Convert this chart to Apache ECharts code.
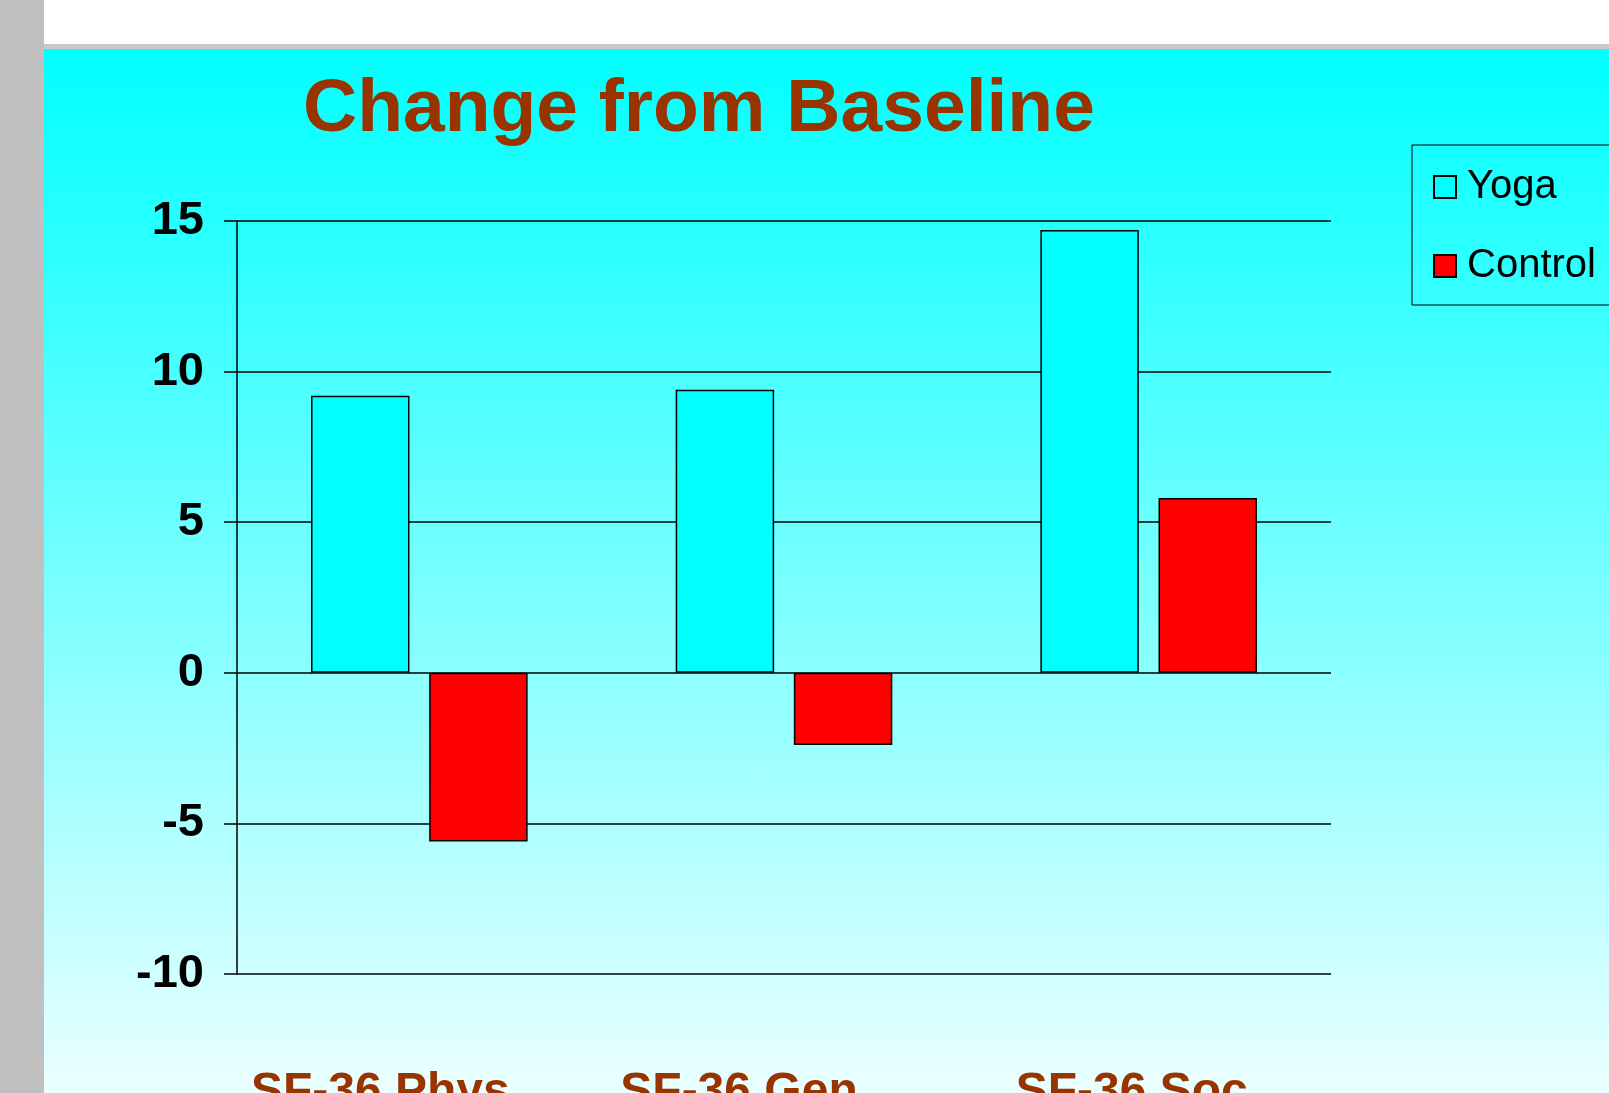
<!DOCTYPE html>
<html>
<head>
<meta charset="utf-8">
<script src="https://cdn.jsdelivr.net/npm/echarts@6/dist/echarts.min.js"></script>
<style>
    html, body { margin: 0; padding: 0; width: 1609px; height: 1093px; overflow: hidden; background: #ffffff; }
    #strip { position: absolute; left: 0; top: 0; width: 44px; height: 1093px; background: #c0c0c0; }
    #rule { position: absolute; left: 44px; top: 44px; width: 1565px; height: 5px; background: #c8c8c8; }
    #slide { position: absolute; left: 44px; top: 49px; width: 1565px; height: 1044px;
             background: linear-gradient(to bottom, #00ffff 0%, #ebffff 100%); }
    #main { position: absolute; left: 0; top: 0; width: 1609px; height: 1093px; }
</style>
</head>
<body>
<div id="strip"></div>
<div id="rule"></div>
<div id="slide"></div>
<div id="main"></div>
<script>
// 分类
const categories = ['SF-36 Phys', 'SF-36 Gen', 'SF-36 Soc']
// Yoga 组
const yoga = [9.2, 9.4, 14.7]
// Control 组
const control = [-5.6, -2.4, 5.8]
// y 轴刻度
const yMin = -10
const yMax = 15
const yStep = 5

const font = 'Liberation Sans, Arial, sans-serif'
const brown = '#993300'

// labels sit a bit left of the category centres in the original
const labelRich = {
    l0: { fontFamily: font, fontSize: 48, fontWeight: 'bold', color: brown, padding: [0, 78, 0, 0] },
    l1: { fontFamily: font, fontSize: 48, fontWeight: 'bold', color: brown, padding: [0, 90, 0, 0] },
    l2: { fontFamily: font, fontSize: 48, fontWeight: 'bold', color: brown, padding: [0, 34, 0, 0] }
}

let chart = echarts.init(document.getElementById('main'))
let option = {
    backgroundColor: 'transparent',
    animation: false,
    title: {
        text: 'Change from Baseline',
        left: 298,
        top: 68,
        textStyle: {
            fontFamily: font,
            fontSize: 75,
            fontWeight: 'bold',
            color: brown
        }
    },
    legend: {
        orient: 'vertical',
        left: 1412,
        top: 145,
        padding: [22, 40, 19, 21],
        itemGap: 39,
        itemWidth: 22,
        itemHeight: 22,
        icon: 'rect',
        borderColor: '#000',
        borderWidth: 1,
        borderRadius: 0,
        textStyle: {
            fontFamily: font,
            fontSize: 40,
            color: '#000',
            padding: [0, 0, 0, 6]
        },
        data: ['Yoga', 'Control']
    },
    grid: {
        left: 237,
        top: 221,
        right: 278,
        bottom: 119,
        containLabel: false,
        outerBoundsMode: 'none'
    },
    xAxis: {
        type: 'category',
        data: categories,
        axisLine: { show: false, onZero: false },
        axisTick: { show: false },
        axisLabel: {
            margin: 95,
            formatter: (v, i) => `{l${i}|${v}}`,
            rich: labelRich
        }
    },
    yAxis: {
        type: 'value',
        min: yMin,
        max: yMax,
        interval: yStep,
        axisLine: { show: true, lineStyle: { color: '#000', width: 1.5 } },
        axisTick: { show: true, length: 13, lineStyle: { color: '#000', width: 1.5 } },
        splitLine: { show: true, lineStyle: { color: '#000', width: 1.5 } },
        axisLabel: {
            margin: 33,
            padding: [7, 0, 0, 0],
            fontFamily: font,
            fontSize: 47,
            fontWeight: 'bold',
            color: '#000'
        }
    },
    series: [
        {
            name: 'Yoga',
            type: 'bar',
            data: yoga,
            barWidth: '27%',
            barGap: '20%',
            itemStyle: { color: '#00ffff', borderColor: '#000', borderWidth: 1.5 }
        },
        {
            name: 'Control',
            type: 'bar',
            data: control,
            barWidth: '27%',
            itemStyle: { color: '#ff0000', borderColor: '#000', borderWidth: 1.5 }
        }
    ]
}

chart.setOption(option)
</script>
</body>
</html>
